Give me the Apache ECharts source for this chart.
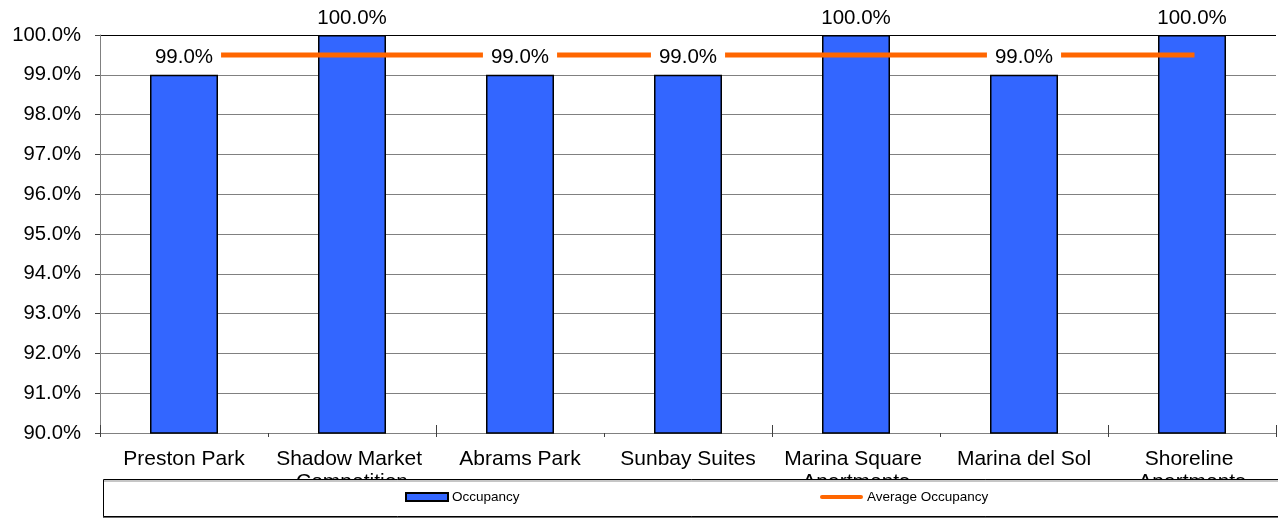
<!DOCTYPE html>
<html>
<head>
<meta charset="utf-8">
<title>Occupancy</title>
<script src="https://cdn.jsdelivr.net/npm/echarts@6/dist/echarts.min.js"></script>
<style>
  html, body { margin: 0; padding: 0; background: #fff; }
  #chart { width: 1278px; height: 518px; }
</style>
</head>
<body>
<div id="chart"></div>
<script>
// Properties and their occupancy (percent)
const properties = ['Preston Park', 'Shadow Market Competition', 'Abrams Park', 'Sunbay Suites',
                    'Marina Square Apartments', 'Marina del Sol', 'Shoreline Apartments'];
const occupancy = [99.0, 100.0, 99.0, 99.0, 100.0, 99.0, 100.0];
const averageOccupancy = [99.5, 99.5, 99.5, 99.5, 99.5, 99.5, 99.5];
const yMin = 90, yMax = 100, yStep = 1;

const FONT = "'Liberation Sans', Arial, sans-serif";
const gridColors = [];
for (let v = yMin; v <= yMax; v += yStep) gridColors.push(v === yMax ? '#000000' : '#808080');

const chart = echarts.init(document.getElementById('chart'), null, { renderer: 'canvas' });
chart.setOption({
  animation: false,
  backgroundColor: '#ffffff',
  textStyle: { fontFamily: FONT },
  grid: { left: 100, right: 2, top: 35, bottom: 85, containLabel: false },
  xAxis: [{
    type: 'category',
    data: properties,
    axisLine: { lineStyle: { color: '#808080', width: 1 } },
    axisTick: { show: true, alignWithLabel: false, length: 4, lineStyle: { color: '#404040' } },
    axisLabel: {
      color: '#000', fontSize: 21, fontFamily: FONT, margin: 15,
      width: 164, overflow: 'break', lineHeight: 23, interval: 0
    },
    splitLine: { show: false }
  }, {
    // inner half of the crossing category ticks
    type: 'category',
    data: properties,
    position: 'bottom',
    axisLine: { show: false },
    axisTick: { show: true, inside: true, length: 8, lineStyle: { color: '#404040' } },
    axisLabel: { show: false }
  }],
  yAxis: {
    type: 'value',
    min: yMin, max: yMax, interval: yStep,
    axisLine: { show: true, lineStyle: { color: '#808080', width: 1 } },
    axisTick: { show: true, length: 5, lineStyle: { color: '#404040' } },
    axisLabel: {
      color: '#000', fontSize: 20.3, fontFamily: FONT, margin: 19,
      formatter: v => v.toFixed(1) + '%'
    },
    splitLine: { show: true, lineStyle: { color: gridColors, width: 1 } }
  },
  legend: [{
    z: 20,
    left: 405, top: 490,
    padding: 0,
    itemWidth: 42, itemHeight: 8,
    textStyle: { fontSize: 13.5, color: '#000', fontFamily: FONT, padding: [0, 0, 0, -1] },
    data: [{ name: 'Occupancy', icon: 'rect' }]
  }, {
    z: 20,
    left: 820, top: 490,
    padding: 0,
    itemWidth: 43, itemHeight: 8,
    textStyle: { fontSize: 13.5, color: '#000', fontFamily: FONT, padding: [0, 0, 0, -1] },
    data: [{
      name: 'Average Occupancy',
      icon: 'path://M2,2 L41,2 A2,2 0 0 1 41,6 L2,6 A2,2 0 0 1 2,2 Z'
    }]
  }],
  graphic: [{
    type: 'rect',
    z: 15,
    shape: { x: 103.5, y: 479.5, width: 1200, height: 37 },
    style: { fill: '#ffffff', stroke: '#000000', lineWidth: 1,
             shadowColor: 'rgba(0,0,0,0.45)', shadowOffsetY: 1.5, shadowBlur: 0 }
  }],
  series: [{
    name: 'Occupancy',
    type: 'bar',
    data: occupancy,
    barWidth: 68,
    z: 2,
    itemStyle: { color: '#3366FF', borderColor: '#000000', borderWidth: 1.5 }
  }, {
    name: 'Average Occupancy',
    type: 'line',
    data: averageOccupancy,
    z: 3,
    symbol: 'none',
    lineStyle: { color: '#FF6600', width: 5, cap: 'square' },
    itemStyle: { color: '#FF6600' }
  }, {
    // value labels drawn above the average line
    name: 'Occupancy Labels',
    type: 'scatter',
    data: occupancy,
    z: 5,
    symbolSize: 0,
    silent: true,
    itemStyle: { opacity: 1 },
    label: {
      show: true, position: 'top', distance: 6,
      formatter: p => p.value.toFixed(1) + '%',
      fontSize: 20.5, color: '#000', fontFamily: FONT,
      backgroundColor: '#ffffff', padding: [2, 8, 1, 8], lineHeight: 20
    }
  }]
});
</script>
</body>
</html>
